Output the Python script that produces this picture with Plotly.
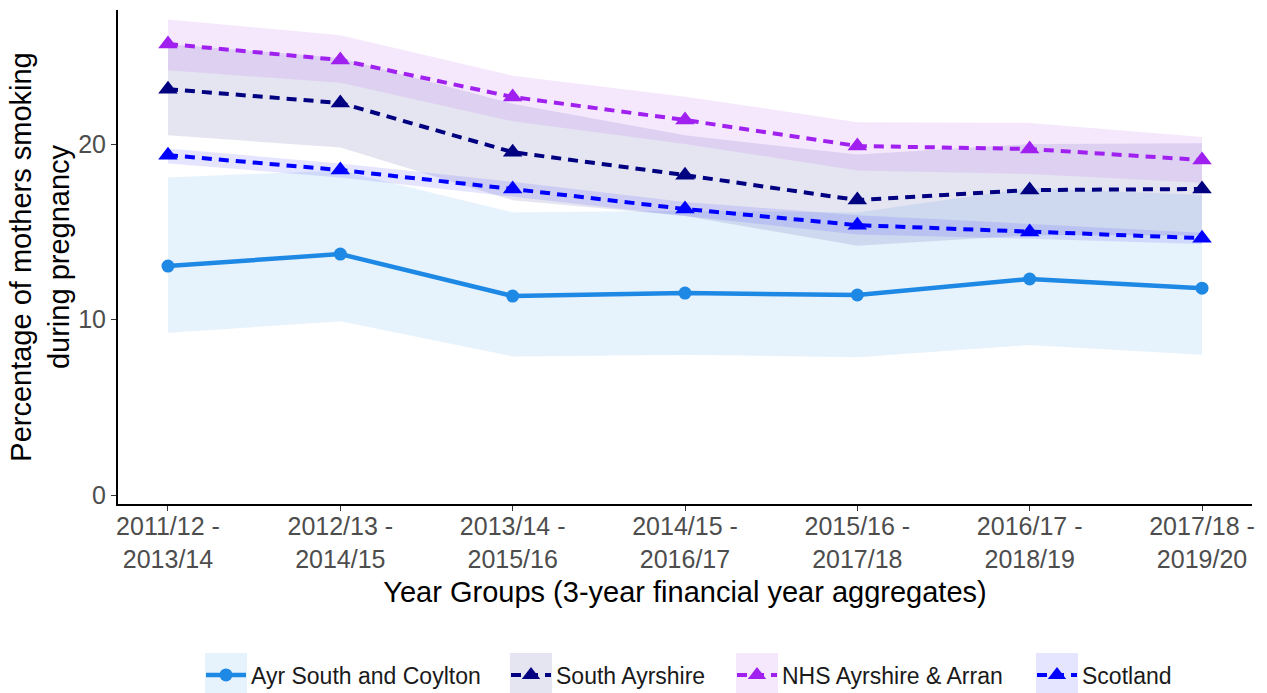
import plotly.graph_objects as go

# Year groups (3-year financial year aggregates)
periods = ["2011/12 -<br>2013/14", "2012/13 -<br>2014/15", "2013/14 -<br>2015/16",
           "2014/15 -<br>2016/17", "2015/16 -<br>2017/18", "2016/17 -<br>2018/19",
           "2017/18 -<br>2019/20"]

# Percentage of mothers smoking during pregnancy, with confidence limits
ayr_rate = [13.05, 13.73, 11.34, 11.51, 11.40, 12.31, 11.79]
ayr_lower = [9.25, 9.90, 7.90, 8.00, 7.85, 8.55, 8.00]
ayr_upper = [18.10, 18.50, 16.10, 16.20, 16.10, 17.50, 17.10]

sa_rate = [23.13, 22.34, 19.54, 18.23, 16.81, 17.38, 17.44]
sa_lower = [20.50, 19.80, 16.80, 15.90, 14.20, 14.80, 14.80]
sa_upper = [25.70, 24.90, 22.30, 20.50, 19.40, 20.00, 20.05]

nhs_rate = [25.70, 24.79, 22.68, 21.37, 19.89, 19.72, 19.09]
nhs_lower = [24.20, 23.50, 21.30, 20.00, 18.50, 18.30, 17.80]
nhs_upper = [27.10, 26.20, 23.90, 22.70, 21.25, 21.20, 20.40]

scot_rate = [19.37, 18.52, 17.44, 16.30, 15.38, 14.99, 14.64]
scot_lower = [18.90, 18.10, 17.00, 15.90, 14.85, 14.60, 14.30]
scot_upper = [19.75, 18.90, 17.85, 16.70, 15.95, 15.45, 14.95]

series = [
    ("Ayr South and Coylton", ayr_rate, ayr_lower, ayr_upper, "#1E88E5", "rgba(30,136,229,0.11)", "solid", "circle", 13, 4.5),
    ("South Ayrshire", sa_rate, sa_lower, sa_upper, "#000080", "rgba(0,0,128,0.10)", "10px,7px", "triangle-up", 17, 4),
    ("NHS Ayrshire & Arran", nhs_rate, nhs_lower, nhs_upper, "#A020F0", "rgba(160,32,240,0.10)", "10px,7px", "triangle-up", 17, 4),
    ("Scotland", scot_rate, scot_lower, scot_upper, "#0000FF", "rgba(0,0,255,0.10)", "10px,7px", "triangle-up", 17, 4),
]

# plot area in pixels (used to place the legend keys in paper units)
L, R, T, B, W, H = 118, 15, 10, 189, 1267, 693
plot_w = W - L - R
plot_h = H - T - B


def px_x(px):
    return (px - L) / plot_w


def px_y(py):
    return (H - B - py) / plot_h


# legend key boxes: left edges in pixels, one per series
key_left = [205, 510, 736, 1036]
key_width = 42
key_top, key_bottom = 653, 693
key_mid = 675
symbol_width = 40

fig = go.Figure()

# confidence bands
for name, rate, lo, hi, col, fillcol, dash, sym, msize, lw in series:
    fig.add_trace(go.Scatter(x=periods, y=hi, mode="lines", line=dict(width=0),
                             showlegend=False, hoverinfo="skip"))
    fig.add_trace(go.Scatter(x=periods, y=lo, mode="lines", line=dict(width=0),
                             fill="tonexty", fillcolor=fillcol,
                             showlegend=False, hoverinfo="skip"))

# rate lines, each with its own legend so the keys can be spaced freely
legend_layout = {}
for i, (name, rate, lo, hi, col, fillcol, dash, sym, msize, lw) in enumerate(series):
    lname = "legend" if i == 0 else f"legend{i + 1}"
    fig.add_trace(go.Scatter(x=periods, y=rate, mode="lines+markers", name=name,
                             legend=lname,
                             line=dict(color=col, width=lw, dash=dash),
                             marker=dict(color=col, size=msize, symbol=sym)))
    centre = key_left[i] + key_width / 2
    legend_layout[lname] = dict(
        orientation="h", x=px_x(centre - 25), xanchor="left",
        y=px_y(key_mid), yanchor="middle", itemwidth=symbol_width,
        bgcolor="rgba(0,0,0,0)", borderwidth=0,
        font=dict(size=23, color="#1a1a1a"),
    )
    fig.add_shape(type="rect", xref="paper", yref="paper",
                  x0=px_x(key_left[i]), x1=px_x(key_left[i] + key_width),
                  y0=px_y(key_bottom), y1=px_y(key_top),
                  fillcolor=fillcol, line=dict(width=0), layer="above")

font_family = "Liberation Sans, Arial, sans-serif"

fig.update_layout(
    width=W, height=H,
    margin=dict(l=L, r=R, t=T, b=B, autoexpand=False),
    plot_bgcolor="white", paper_bgcolor="white",
    font=dict(family=font_family, color="#000000"),
    **legend_layout,
)

fig.update_xaxes(
    type="category", range=[-0.29, 6.29], automargin=False,
    showline=True, linecolor="black", linewidth=2,
    ticks="outside", ticklen=5, tickcolor="#333333",
    tickfont=dict(size=25, color="#4D4D4D"), ticklabelstandoff=-6,
    title=dict(text="Year Groups (3-year financial year aggregates)", font=dict(size=29), standoff=10),
    showgrid=False, zeroline=False,
)
fig.update_yaxes(
    range=[-0.51, 27.64], tickvals=[0, 10, 20], automargin=False,
    showline=True, linecolor="black", linewidth=2,
    ticks="outside", ticklen=5, tickcolor="#333333",
    tickfont=dict(size=25, color="#4D4D4D"),
    title=dict(text="Percentage of mothers smoking<br>during pregnancy", font=dict(size=29), standoff=0),
    showgrid=False, zeroline=False,
)

fig.write_html("out.html")
